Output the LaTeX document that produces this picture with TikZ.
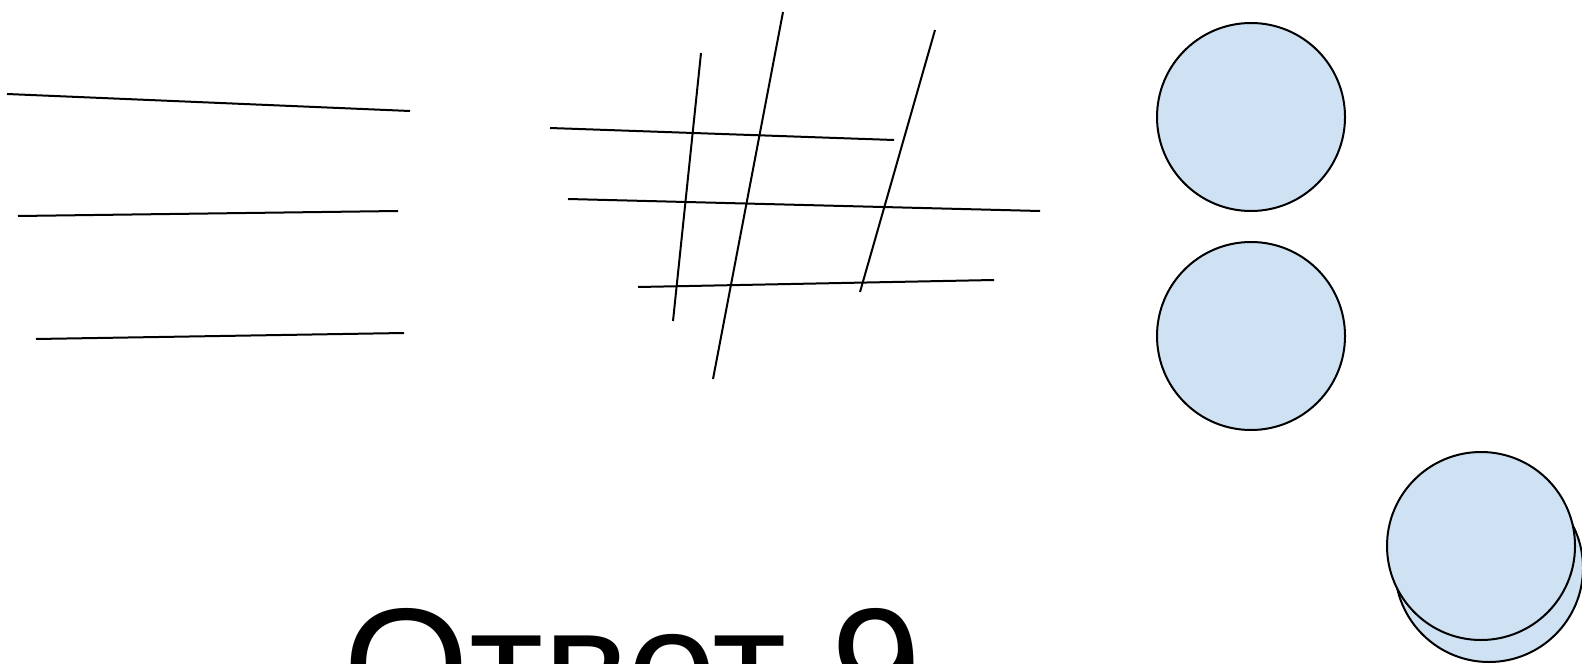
\documentclass[tikz,border=0pt]{standalone}
\usepackage{fontspec}
\setmainfont{Liberation Sans}
\usepackage{xcolor}
\definecolor{discfill}{HTML}{CFE2F3}

\begin{document}
\begin{tikzpicture}[
    x=0.5pt, y=-0.5pt,
    stroke/.style={line width=1pt, black},
    disc/.style={circle, draw=black, line width=1pt, fill=discfill, minimum size=94pt, inner sep=0pt},
    answer/.style={font=\fontsize{81}{81}\selectfont, inner sep=0pt, anchor=base west}
]
\useasboundingbox (0,0) rectangle (1582,663);
\clip (0,0) rectangle (1582,663);

% three strokes
\draw[stroke] (7,94) -- (410,111);
\draw[stroke] (18,216) -- (398,211);
\draw[stroke] (36,339) -- (404,333);

% grid of six strokes
\draw[stroke] (550,128) -- (894,140);
\draw[stroke] (568,199) -- (1040,211);
\draw[stroke] (638,287) -- (994,280);
\draw[stroke] (701,53) -- (673,321);
\draw[stroke] (783,12) -- (713,379);
\draw[stroke] (935,30) -- (860,292);

% discs
\node[disc] (upper) at (1251,117) {};
\node[disc] (lower) at (1251,336) {};
\node[disc] (back) at (1489,568) {};
\node[disc] (front) at (1481,546) {};

\node[answer] (ans) at (343,721) {Ответ 9};
\end{tikzpicture}
\end{document}
